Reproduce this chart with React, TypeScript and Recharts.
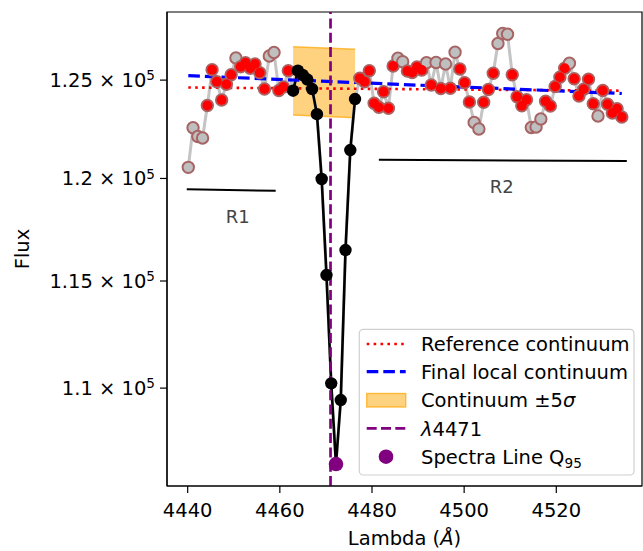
import React from 'react';
import {
  ComposedChart,
  Line,
  Scatter,
  Area,
  XAxis,
  YAxis,
  ReferenceLine,
  ReferenceArea,
} from 'recharts';

// ---------------- data ----------------
const wavelength = [
  4440.13, 4441.16, 4442.2, 4443.23, 4444.27, 4445.3, 4446.33, 4447.37, 4448.4, 4449.44,
  4450.47, 4451.5, 4452.54, 4453.57, 4454.61, 4455.64, 4456.67, 4457.71, 4458.74, 4459.78,
  4460.81, 4461.84, 4462.88, 4463.91, 4464.95, 4465.98, 4467.01, 4468.05, 4469.08, 4470.12,
  4471.15, 4472.18, 4473.22, 4474.25, 4475.29, 4476.32, 4477.35, 4478.39, 4479.42, 4480.46,
  4481.49, 4482.52, 4483.56, 4484.59, 4485.63, 4486.66, 4487.69, 4488.73, 4489.76, 4490.8,
  4491.83, 4492.86, 4493.9, 4494.93, 4495.97, 4497.0, 4498.03, 4499.07, 4500.1, 4501.14,
  4502.17, 4503.2, 4504.24, 4505.27, 4506.31, 4507.34, 4508.37, 4509.41, 4510.44, 4511.48,
  4512.51, 4513.54, 4514.58, 4515.61, 4516.65, 4517.68, 4518.71, 4519.75, 4520.78, 4521.82,
  4522.85, 4523.88, 4524.92, 4525.95, 4526.99, 4528.02, 4529.05, 4530.09, 4531.12, 4532.16,
  4533.19, 4534.22,
];

const flux = [
  120556, 122554, 122107, 122031, 123689, 125541, 124917, 123971, 124787, 125280,
  126151, 125697, 125906, 125614, 125838, 125385, 124539, 126256, 126441, 124461,
  124643, 125489, 124451, 125489, 125265, 125031, 124539, 123243, 119973, 115286,
  110217, 106586, 109457, 116488, 121425, 124023, 125093, 124917, 125489, 123802,
  123597, 124399, 123545, 125733, 126136, 125959, 125473, 125395, 125682, 125525,
  125906, 124746, 125917, 124565, 125838, 124575, 126451, 125577, 124865, 123869,
  122819, 122488, 123859, 124513, 125353, 126914, 127441, 127400, 125280, 124141,
  123679, 123987, 122564, 122590, 122998, 123905, 123664, 124669, 125145, 125614,
  125875, 125073, 124178, 124523, 125042, 123781, 123151, 124461, 123756, 123305,
  123525, 123100,
];

// indices of points rejected from the continuum (drawn grey)
const rejectedIdx = [0, 1, 2, 3, 10, 17, 18, 44, 45, 50, 52, 54, 56, 60, 61, 65, 66, 67, 72, 73, 74, 80, 86];
// spectral line window (black)
const lineStartIdx = 22;
const lineEndIdx = 35;

const lambdaRest = 4471;

// continuum fits, values at first and last wavelength
const referenceContinuum = [124616, 124451];
const finalContinuum = [125229, 124306];
// +-5 sigma band, at start and end of line window
const bandLow = [123202, 123064];
const bandHigh = [126745, 126609];

// R1 / R2 continuum windows
const r1Wave = [4439.8, 4459.1];
const r1Flux = [119460, 119391];
const r1Label = { x: 4450.85, y: 118144, text: 'R1' };
const r2Wave = [4481.5, 4535.3];
const r2Flux = [120930, 120870];
const r2Label = { x: 4508.15, y: 119624, text: 'R2' };

const xTicks = [4440, 4460, 4480, 4500, 4520];
const yTicks = [110000, 115000, 120000, 125000];
const xDomain: [number, number] = [4435.51, 4538.6];
const yDomain: [number, number] = [105620, 128584];

// ---------------- derived tables ----------------
const allPts = wavelength.map((x, i) => ({ x, y: flux[i], i }));
const redPts = allPts.filter(
  (p) => !rejectedIdx.includes(p.i) && (p.i < lineStartIdx || p.i > lineEndIdx)
);
const linePts = allPts.slice(lineStartIdx, lineEndIdx + 1);
const minPt = linePts.reduce((a, b) => (b.y < a.y ? b : a));
const firstX = wavelength[0];
const lastX = wavelength[wavelength.length - 1];
const refPts = [
  { x: firstX, y: referenceContinuum[0] },
  { x: lastX, y: referenceContinuum[1] },
];
const finPts = [
  { x: firstX, y: finalContinuum[0] },
  { x: lastX, y: finalContinuum[1] },
];
const bandPts = [
  { x: wavelength[lineStartIdx], band: [bandLow[0], bandHigh[0]] },
  { x: wavelength[lineEndIdx], band: [bandLow[1], bandHigh[1]] },
];
const r1Pts = r1Wave.map((x, i) => ({ x, y: r1Flux[i] }));
const r2Pts = r2Wave.map((x, i) => ({ x, y: r2Flux[i] }));

const FONT = 'DejaVu Sans';
const FS = 19.5;

const grayDot = (p: any) => {
  const idx = p.index;
  if (idx >= lineStartIdx && idx <= lineEndIdx) return <g key={`gd-${idx}`} />;
  return (
    <circle
      key={`gd-${idx}`}
      cx={p.cx}
      cy={p.cy}
      r={5.7}
      fill="#bfbfbf"
      stroke="#a86464"
      strokeWidth={2}
    />
  );
};

const blackDot = (p: any) => (
  <circle key={`bd-${p.index}`} cx={p.cx} cy={p.cy} r={6.2} fill="#000" />
);

const YTick = (props: any) => {
  const { x, y, payload } = props;
  const m = String(Math.round(payload.value / 1000) / 100);
  return (
    <text x={x} y={y} textAnchor="end" fontFamily={FONT} fontSize={FS} fill="#000" dy="0.36em">
      {m + ' × 10'}
      <tspan dy="-0.5em" fontSize={13.6}>
        5
      </tspan>
    </text>
  );
};

const labelShape = (p: any) => (
  <text
    x={p.cx}
    y={p.cy}
    textAnchor="middle"
    dominantBaseline="central"
    fontFamily={FONT}
    fontSize={18}
    fill="#444"
  >
    {p.payload.text}
  </text>
);

const Legend = () => {
  const rows = [344, 371.7, 400, 428.3, 456.7];
  const hx0 = 366.7;
  const hx1 = 405.7;
  const tx = 421;
  return (
    <g fontFamily={FONT} fontSize={FS} fill="#000">
      <rect x={359.3} y={329.3} width={274.7} height={145.7} rx={4} fill="#fff" fillOpacity={0.85} stroke="#d0d0d0" strokeWidth={1.2} />
      <line x1={hx0} x2={hx1} y1={rows[0]} y2={rows[0]} stroke="#ff0000" strokeWidth={2.6} strokeDasharray="2.6 4.3" />
      <text x={tx} y={rows[0] + 7.3}>Reference continuum</text>
      <line x1={hx0} x2={hx1} y1={rows[1]} y2={rows[1]} stroke="#0000ff" strokeWidth={3.2} strokeDasharray="11.6 5" />
      <text x={tx} y={rows[1] + 7.3}>Final local continuum</text>
      <rect x={hx0} y={rows[2] - 6.5} width={hx1 - hx0} height={13.5} fill="#ffa500" fillOpacity={0.5} stroke="#ffa500" strokeOpacity={0.7} strokeWidth={1.4} />
      <text x={tx} y={rows[2] + 7.3}>
        Continuum ±5<tspan fontStyle="italic">σ</tspan>
      </text>
      <line x1={hx0} x2={hx1} y1={rows[3]} y2={rows[3]} stroke="#800080" strokeWidth={2.7} strokeDasharray="10 4.3" />
      <text x={tx} y={rows[3] + 7.3}>
        <tspan fontStyle="italic">λ</tspan>4471
      </text>
      <circle cx={386} cy={rows[4]} r={7.3} fill="#800080" />
      <text x={tx} y={rows[4] + 7.3}>
        Spectra Line Q<tspan dy="4" fontSize={13.6}>95</tspan>
      </text>
    </g>
  );
};

export default function App() {
  return (
    <div style={{ position: 'absolute', left: 0, top: 0, width: 643, height: 551, background: '#fff' }}>
      <ComposedChart width={643} height={551} margin={{ top: 12, right: 1, bottom: 0, left: 0 }}>
        <XAxis
          type="number"
          dataKey="x"
          domain={xDomain}
          ticks={xTicks}
          interval={0}
          allowDataOverflow
          height={65}
          tickSize={7}
          tickMargin={10}
          axisLine={{ stroke: '#000', strokeWidth: 1.2 }}
          tickLine={{ stroke: '#000', strokeWidth: 1.2 }}
          tick={{ fill: '#000', fontSize: FS, fontFamily: FONT }}
        />
        <YAxis
          type="number"
          dataKey="y"
          scale="log"
          domain={yDomain}
          ticks={yTicks}
          interval={0}
          allowDataOverflow
          width={167}
          tickSize={7}
          tickMargin={5}
          axisLine={{ stroke: '#000', strokeWidth: 1.2 }}
          tickLine={{ stroke: '#000', strokeWidth: 1.2 }}
          tick={(p: any) => <YTick {...p} />}
        />
        <ReferenceArea
          x1={xDomain[0]}
          x2={xDomain[1]}
          y1={yDomain[0]}
          y2={yDomain[1]}
          fill="none"
          fillOpacity={0}
          stroke="#000"
          strokeWidth={1.2}
          ifOverflow="visible"
        />
        <Area
          data={bandPts}
          dataKey="band"
          type="linear"
          fill="#ffa500"
          fillOpacity={0.5}
          stroke="#ffa500"
          strokeOpacity={0.7}
          strokeWidth={1.4}
          isAnimationActive={false}
          dot={false}
          activeDot={false}
        />
        <Line
          data={allPts}
          dataKey="y"
          type="linear"
          stroke="#c4c4c4"
          strokeWidth={3}
          dot={grayDot}
          activeDot={false}
          isAnimationActive={false}
        />
        <Scatter
          data={redPts}
          dataKey="y"
          isAnimationActive={false}
          shape={(p: any) => <circle cx={p.cx} cy={p.cy} r={5} fill="#ff0000" />}
        />
        <Line
          data={linePts}
          dataKey="y"
          type="linear"
          stroke="#000"
          strokeWidth={2.6}
          dot={blackDot}
          activeDot={false}
          isAnimationActive={false}
        />
        <Line
          data={refPts}
          dataKey="y"
          type="linear"
          stroke="#ff0000"
          strokeWidth={2.6}
          strokeDasharray="2.6 4.3"
          dot={false}
          activeDot={false}
          isAnimationActive={false}
        />
        <Line
          data={finPts}
          dataKey="y"
          type="linear"
          stroke="#0000ff"
          strokeWidth={3.2}
          strokeDasharray="11.6 5"
          dot={false}
          activeDot={false}
          isAnimationActive={false}
        />
        <Line
          data={r1Pts}
          dataKey="y"
          type="linear"
          stroke="#000"
          strokeWidth={2}
          dot={false}
          activeDot={false}
          isAnimationActive={false}
        />
        <Line
          data={r2Pts}
          dataKey="y"
          type="linear"
          stroke="#000"
          strokeWidth={2}
          dot={false}
          activeDot={false}
          isAnimationActive={false}
        />
        <ReferenceLine x={lambdaRest} stroke="#800080" strokeWidth={2.7} strokeDasharray="10 4.3" />
        <Scatter
          data={[r1Label, r2Label]}
          dataKey="y"
          isAnimationActive={false}
          shape={labelShape}
        />
        <Scatter
          data={[minPt]}
          dataKey="y"
          isAnimationActive={false}
          shape={(p: any) => <circle cx={p.cx} cy={p.cy} r={7.3} fill="#800080" />}
        />
      </ComposedChart>
      <svg
        width={643}
        height={551}
        style={{ position: 'absolute', left: 0, top: 0, pointerEvents: 'none' }}
      >
        <text
          x={22}
          y={249}
          transform="rotate(-90 22 249)"
          textAnchor="middle"
          dominantBaseline="central"
          fontFamily={FONT}
          fontSize={FS}
          fill="#000"
        >
          Flux
        </text>
        <text x={404.5} y={545} textAnchor="middle" fontFamily={FONT} fontSize={FS} fill="#000">
          Lambda (<tspan fontStyle="italic">Å</tspan>)
        </text>
        <Legend />
      </svg>
    </div>
  );
}
